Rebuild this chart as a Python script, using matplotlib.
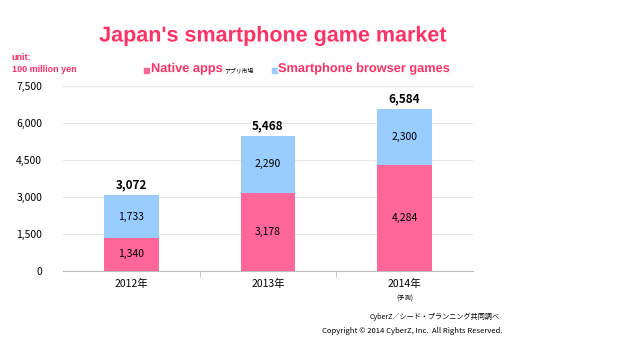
import matplotlib.pyplot as plt
import matplotlib.patheffects as pe
from matplotlib.ticker import FuncFormatter

years = ['2012年', '2013年', '2014年']
native_apps = [1340, 3178, 4284]
browser_games = [1733, 2290, 2300]
totals = [3072, 5468, 6584]
yticks = [0, 1500, 3000, 4500, 6000, 7500]

pink = '#FF6699'
blue = '#99CCFF'
title_pink = '#FF3366'

plt.rcParams['font.family'] = ['Noto Sans CJK JP', 'DejaVu Sans']

fig = plt.figure(figsize=(6.2, 3.41), dpi=100)
ax = fig.add_axes([63 / 620, 1 - 271 / 341, 410 / 620, 185 / 341])

x = range(len(years))
ax.bar(x, native_apps, width=0.4, color=pink, zorder=3)
ax.bar(x, browser_games, width=0.4, bottom=native_apps, color=blue, zorder=3)

for i in x:
    ax.text(i, native_apps[i] / 2, f'{native_apps[i]:,}', ha='center', va='center', fontsize=7.5, zorder=4)
    ax.text(i, native_apps[i] + browser_games[i] / 2, f'{browser_games[i]:,}', ha='center', va='center',
            fontsize=7.5, zorder=4)
    ax.text(i, totals[i] + 150, f'{totals[i]:,}', ha='center', va='bottom', fontsize=8.5,
            fontweight='bold', zorder=4)

ax.set_xlim(-0.5, 2.5)
ax.set_ylim(0, 7500)
ax.set_yticks(yticks)
ax.yaxis.set_major_formatter(FuncFormatter(lambda v, p: f'{int(v):,}'))
ax.yaxis.grid(True, color='#E6E6E6', linewidth=0.8, zorder=0)
ax.set_xticks(list(x))
ax.set_xticklabels(years, fontsize=7.5)
ax.set_xticks([0.5, 1.5], minor=True)
ax.tick_params(axis='x', which='major', length=0, pad=6)
ax.tick_params(axis='x', which='minor', length=4, color='#BBBBBB', direction='out')
ax.tick_params(axis='y', length=0, labelsize=7.5, pad=15)
for s in ['top', 'right', 'left']:
    ax.spines[s].set_visible(False)
ax.spines['bottom'].set_color('#BBBBBB')
ax.text(2, -1120, '(予測)', ha='center', va='center', fontsize=4.5)

# title and legend
glow = [pe.withSimplePatchShadow(offset=(1, -1.5), shadow_rgbFace='#BBBBBB', alpha=0.6),
        pe.withStroke(linewidth=3, foreground='white')]
fig.text(273 / 620, 1 - 36 / 341, "Japan's smartphone game market", ha='center', va='center',
         fontsize=15.5, fontweight='bold', color=title_pink, family='Liberation Sans', path_effects=glow)

fig.text(12 / 620, 1 - 57 / 341, 'unit:', fontsize=6.5, fontweight='bold', color=title_pink,
         family='Liberation Sans', va='center')
fig.text(12 / 620, 1 - 70 / 341, '100 million yen', fontsize=6.5, fontweight='bold', color=title_pink,
         family='Liberation Sans', va='center')

leg_fx = [pe.withSimplePatchShadow(offset=(0.8, -1), shadow_rgbFace='#BBBBBB', alpha=0.5),
          pe.withStroke(linewidth=2, foreground='white')]
fig.patches.append(plt.Rectangle((144 / 620, 1 - 73 / 341), 5 / 620, 5 / 341, color=pink,
                                 transform=fig.transFigure, figure=fig))
fig.text(151 / 620, 1 - 69 / 341, 'Native apps', fontsize=9.2, fontweight='bold', color=title_pink,
         family='Liberation Sans', va='center', path_effects=leg_fx)
fig.text(224 / 620, 1 - 70 / 341, 'アプリ市場', fontsize=4.2, va='center')
fig.patches.append(plt.Rectangle((272 / 620, 1 - 73 / 341), 5 / 620, 5 / 341, color=blue,
                                 transform=fig.transFigure, figure=fig))
fig.text(278 / 620, 1 - 69 / 341, 'Smartphone browser games', fontsize=9.2, fontweight='bold',
         color=title_pink, family='Liberation Sans', va='center', path_effects=leg_fx)

fig.text(500 / 620, 1 - 317 / 341, 'CyberZ／シード・プランニング共同調べ', ha='right', va='center', fontsize=5.1)
fig.text(503 / 620, 1 - 331 / 341, 'Copyright © 2014 CyberZ, Inc.  All Rights Reserved.', ha='right',
         va='center', fontsize=5.5)

fig.savefig('out.png', dpi=100)
